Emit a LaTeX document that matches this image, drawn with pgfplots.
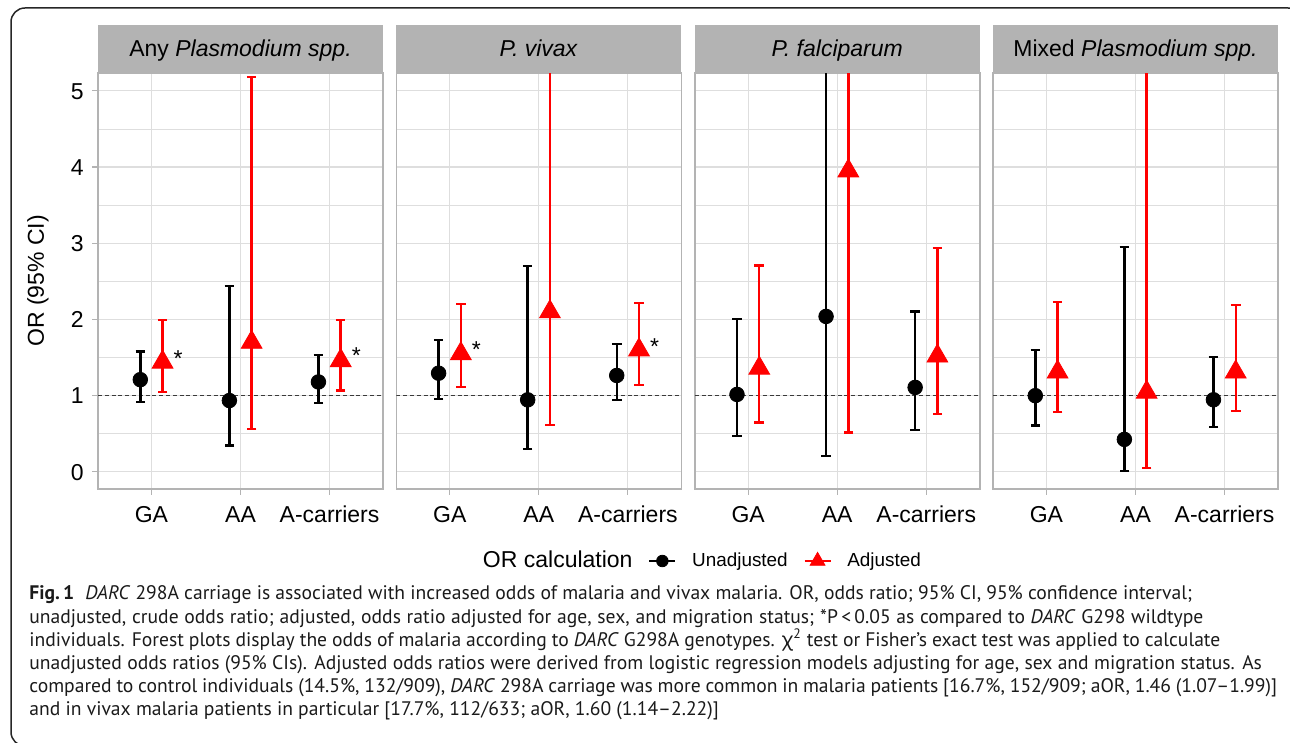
\documentclass[border=0pt]{standalone}
\usepackage{fontspec}
\setmainfont{Liberation Sans}
\newfontfamily\capfont{PT Sans}
\newfontfamily\chifont{Noto Sans}
\usepackage{pgfplots}
\pgfplotsset{compat=1.18}
\usepackage{pgfplotstable}
\definecolor{g70}{HTML}{B3B3B3}
\definecolor{g87}{HTML}{DEDEDE}
\definecolor{g30}{HTML}{3A3A3A}
\definecolor{myred}{HTML}{FF0000}
\definecolor{captext}{HTML}{1A1A1A}

% columns: unadjusted x, OR, lower, upper; adjusted x, OR, lower, upper
\pgfplotstableread{
xu yu lu hu xa ya la ha
0.875 1.21 0.915 1.58 1.125 1.44 1.05 1.99
1.875 0.936 0.345 2.44 2.125 1.70 0.564 5.18
2.875 1.18 0.90 1.535 3.125 1.46 1.07 1.99
}\tabAny
\pgfplotstableread{
xu yu lu hu xa ya la ha
0.875 1.295 0.958 1.73 1.125 1.55 1.11 2.205
1.875 0.945 0.30 2.70 2.125 2.10 0.617 6.0
2.875 1.265 0.945 1.675 3.125 1.60 1.14 2.22
}\tabViv
\pgfplotstableread{
xu yu lu hu xa ya la ha
0.875 1.016 0.472 2.01 1.125 1.36 0.647 2.71
1.875 2.04 0.21 6.0 2.125 3.95 0.518 6.0
2.875 1.108 0.546 2.106 3.125 1.52 0.762 2.935
}\tabFal
\pgfplotstableread{
xu yu lu hu xa ya la ha
0.875 1.00 0.61 1.60 1.125 1.31 0.786 2.226
1.875 0.426 0.013 2.95 2.125 1.045 0.05 6.0
2.875 0.946 0.588 1.51 3.125 1.31 0.795 2.19
}\tabMix

\pgfplotsset{
  panel/.style={
    width=142.5pt, height=208pt, scale only axis,
    anchor=south west,
    xmin=0.4, xmax=3.6, ymin=-0.225, ymax=5.235,
    xtick={1,2,3}, xticklabels={GA,AA,A-carriers},
    ytick={0,1,2,3,4,5},
    minor ytick={0.5,1.5,2.5,3.5,4.5},
    grid=both,
    major grid style={g87, line width=0.6pt},
    minor grid style={g87, line width=0.35pt},
    axis line style={g70, line width=0.8pt},
    tick align=outside, tick pos=left,
    major tick length=3pt, minor tick length=0pt,
    tick style={g70, line width=0.6pt},
    /pgf/number format/assume math mode=true,
    xticklabel style={font=\fontsize{11.5}{13}\selectfont, anchor=north, inner sep=0pt, text height=8.25pt, text depth=0pt, yshift=-5.5pt},
    yticklabel style={font=\fontsize{11.5}{13}\selectfont, anchor=east, inner sep=0pt, text height=8.25pt, text depth=0pt, xshift=-4pt},
    clip=true,
  },
  unadj/.style={forget plot, only marks, black, mark=*, mark size=3.65pt,
    mark options={draw=black, fill=black},
    error bars/y dir=both, error bars/y explicit,
    error bars/error bar style={line width=1.2pt, black},
    error bars/error mark=|,
    error bars/error mark options={line width=1.2pt, mark size=2.4pt, black}},
  adj/.style={forget plot, only marks, myred, mark=triangle*, mark size=6pt,
    mark options={draw=myred, fill=myred},
    error bars/y dir=both, error bars/y explicit,
    error bars/error bar style={line width=1.2pt, myred},
    error bars/error mark=|,
    error bars/error mark options={line width=1.2pt, mark size=2.4pt, myred}},
  hline/.style={g30, line width=0.6pt, dash pattern=on 2pt off 1.4pt, forget plot},
}

\newcommand{\panelplots}[1]{%
  \addplot[hline] coordinates {(0.4,1) (3.6,1)};
  \addplot[unadj] table[x=xu, y=yu,
    y error plus expr=\thisrow{hu}-\thisrow{yu},
    y error minus expr=\thisrow{yu}-\thisrow{lu}] {#1};
  \addplot[adj] table[x=xa, y=ya,
    y error plus expr=\thisrow{ha}-\thisrow{ya},
    y error minus expr=\thisrow{ya}-\thisrow{la}] {#1};
}

\tikzset{strip/.style={anchor=south, fill=g70, minimum width=142.5pt, minimum height=24pt,
  inner sep=0pt, text height=8.25pt, text depth=0pt, font=\fontsize{11.5}{13}\selectfont}}
\tikzset{captxt/.style={anchor=base west, inner sep=0pt, text=captext, font=\capfont\fontsize{9.8}{11.5}\selectfont}}

\begin{document}
\begin{tikzpicture}
\useasboundingbox (0,0) rectangle (645pt,371.5pt);
\draw[line width=0.75pt, black!85, rounded corners=7pt] (5.5pt,-1.5pt) rectangle (651pt,367.5pt);

% Panel 1
\begin{axis}[panel, name=p1, at={(49pt,127pt)},
  ylabel={OR (95\% CI)},
  ylabel style={at={(axis description cs:-0.2105,0.5)}, anchor=center, font=\fontsize{11.5}{13}\selectfont},
  legend style={at={(axis description cs:1.2947,-0.1731)}, anchor=west, draw=none, fill=none,
    inner sep=0pt, legend columns=-1, font=\fontsize{9.45}{11}\selectfont,
    nodes={inner sep=0pt},
    /tikz/every odd column/.append style={column sep=7.8pt},
    /tikz/every even column/.append style={column sep=7.8pt}},
]
\panelplots{\tabAny}
\node[font=\fontsize{11.5}{13}\selectfont] at (axis cs:1.30,1.49) {*};
\node[font=\fontsize{11.5}{13}\selectfont] at (axis cs:3.30,1.52) {*};
\addlegendimage{empty legend}
\addlegendentry{\fontsize{11.5}{13}\selectfont OR calculation}
\addlegendimage{legend image code/.code={\draw[black,line width=1.2pt] (0pt,0pt)--(13pt,0pt); \fill[black] (6.5pt,0pt) circle[radius=2.9pt];}}
\addlegendentry{Unadjusted}
\addlegendimage{legend image code/.code={\draw[myred,line width=1.2pt] (0pt,0pt)--(13pt,0pt); \fill[myred] (6.5pt,4.3pt)--(10.22pt,-2.15pt)--(2.78pt,-2.15pt)--cycle;}}
\addlegendentry{Adjusted}
\end{axis}

% Panel 2
\begin{axis}[panel, name=p2, at={(198.15pt,127pt)}, yticklabels={}, ytick style={draw=none}]
\panelplots{\tabViv}
\node[font=\fontsize{11.5}{13}\selectfont] at (axis cs:1.30,1.60) {*};
\node[font=\fontsize{11.5}{13}\selectfont] at (axis cs:3.30,1.64) {*};
\end{axis}

% Panel 3
\begin{axis}[panel, name=p3, at={(347.35pt,127pt)}, yticklabels={}, ytick style={draw=none}]
\panelplots{\tabFal}
\end{axis}

% Panel 4
\begin{axis}[panel, name=p4, at={(496.5pt,127pt)}, yticklabels={}, ytick style={draw=none}]
\panelplots{\tabMix}
\end{axis}

\node[strip] at (p1.north) {Any \textit{Plasmodium spp.}};
\node[strip] at (p2.north) {\textit{P. vivax}};
\node[strip] at (p3.north) {\textit{P. falciparum}};
\node[strip] at (p4.north) {Mixed \textit{Plasmodium spp.}};

% Caption
\node[captxt] at (14.5pt,71.5pt) {\makebox[581.3pt][s]{\textbf{Fig.\,1}\hspace{5.5pt}\textit{DARC} 298A carriage is associated with increased odds of malaria and vivax malaria. OR, odds ratio; 95\% CI, 95\% confidence interval;}};
\node[captxt] at (14.5pt,59.95pt) {\makebox[587pt][s]{unadjusted, crude odds ratio; adjusted, odds ratio adjusted for age, sex, and migration status; *P\,<\,0.05 as compared to \textit{DARC} G298 wildtype}};
\node[captxt] at (14.5pt,48.4pt) {\makebox[595.5pt][s]{individuals. Forest plots display the odds of malaria according to \textit{DARC} G298A genotypes. {\chifont χ}\textsuperscript{2} test or Fisher’s exact test was applied to calculate}};
\node[captxt] at (14.5pt,36.85pt) {\makebox[616.3pt][s]{unadjusted odds ratios (95\% CIs). Adjusted odds ratios were derived from logistic regression models adjusting for age, sex and migration status. As}};
\node[captxt] at (14.5pt,25.3pt) {\makebox[623.8pt][s]{compared to control individuals (14.5\%, 132/909), \textit{DARC} 298A carriage was more common in malaria patients [16.7\%, 152/909; aOR, 1.46 (1.07–1.99)]}};
\node[captxt] at (14.5pt,13.75pt) {and in vivax malaria patients in particular [17.7\%, 112/633; aOR, 1.60 (1.14–2.22)]};
\end{tikzpicture}
\end{document}
